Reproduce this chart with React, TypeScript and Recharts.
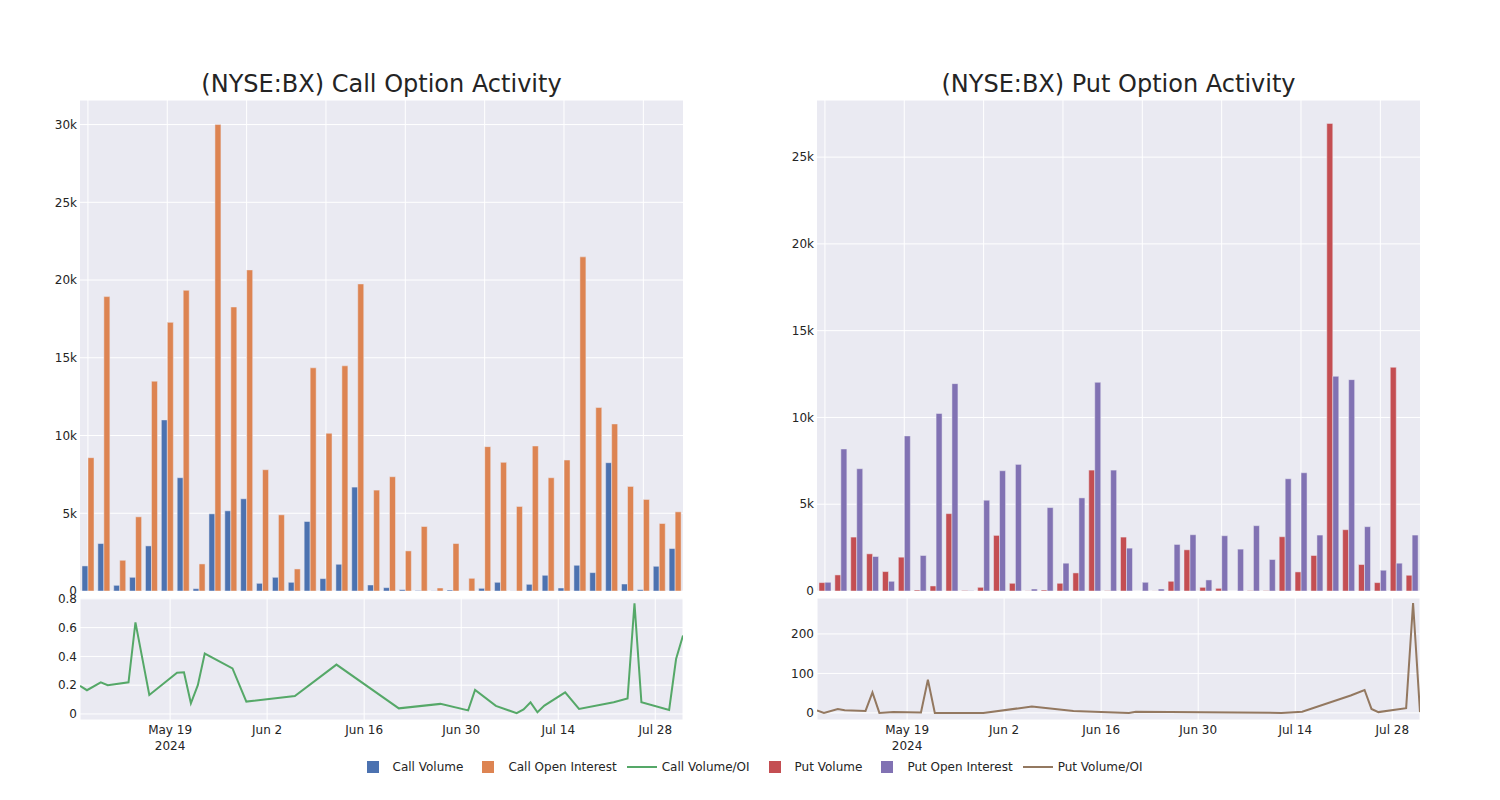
import { BarChart, Bar, LineChart, Line, XAxis, YAxis, CartesianGrid } from "recharts";

// 38 trading days shown as (hidden) categories on the bar panels
const categories = [
  "2024-05-06", "2024-05-07", "2024-05-09", "2024-05-10", "2024-05-13", "2024-05-14",
  "2024-05-15", "2024-05-16", "2024-05-17", "2024-05-20", "2024-05-21", "2024-05-22",
  "2024-05-23", "2024-05-24", "2024-05-28", "2024-05-30", "2024-06-06", "2024-06-12",
  "2024-06-20", "2024-06-21", "2024-06-27", "2024-07-01", "2024-07-02", "2024-07-05",
  "2024-07-08", "2024-07-09", "2024-07-10", "2024-07-11", "2024-07-12", "2024-07-15",
  "2024-07-17", "2024-07-22", "2024-07-24", "2024-07-25", "2024-07-26", "2024-07-30",
  "2024-07-31", "2024-08-01",
];

const callVolume = [
  1612, 3052, 365, 881, 2901, 11003, 7285, 150, 4964, 5158, 5931, 494, 881, 559, 4470, 795,
  1719, 6683, 387, 215, 86, 30, 10, 64, 0, 172, 559, 5, 430, 1010, 193, 1655, 1182, 8252, 451,
  86, 1590, 2729,
];
const callOpenInterest = [
  8575, 18933, 1977, 4771, 13496, 17278, 19341, 1741, 30000, 18267, 20652, 7801, 4900, 1418,
  14355, 10143, 14484, 19749, 6490, 7350, 2579, 4148, 193, 3052, 817, 9284, 8274, 5437, 9327,
  7285, 8424, 21490, 11798, 10745, 6726, 5888, 4341, 5093,
];
const putVolume = [
  483, 926, 3107, 2142, 1119, 1949, 58, 290, 4458, 30, 212, 3204, 444, 10, 58, 444, 1042, 6967,
  20, 3107, 0, 5, 560, 2374, 212, 154, 0, 20, 20, 3127, 1100, 2046, 26943, 3532, 1525, 483,
  12892, 907,
];
const putOpenInterest = [
  502, 8183, 7045, 1988, 560, 8936, 2046, 10229, 11947, 15, 5230, 6929, 7295, 116, 4806, 1602,
  5365, 12024, 6967, 2470, 502, 116, 2683, 3242, 637, 3185, 2413, 3764, 1814, 6466, 6813, 3223,
  12371, 12178, 3706, 1197, 1602, 3223,
];

// volume / OI lines, on a real date axis
const callRatioDates = [
  "2024-05-06", "2024-05-07", "2024-05-09", "2024-05-10", "2024-05-13", "2024-05-14",
  "2024-05-16", "2024-05-20", "2024-05-21", "2024-05-22", "2024-05-23", "2024-05-24",
  "2024-05-28", "2024-05-30", "2024-06-06", "2024-06-12", "2024-06-21", "2024-06-27",
  "2024-07-01", "2024-07-02", "2024-07-05", "2024-07-08", "2024-07-09", "2024-07-10",
  "2024-07-11", "2024-07-12", "2024-07-15", "2024-07-17", "2024-07-22", "2024-07-24",
  "2024-07-25", "2024-07-26", "2024-07-30", "2024-07-31", "2024-08-01",
];
const callRatio = [
  0.195, 0.165, 0.22, 0.2, 0.22, 0.637, 0.132, 0.287, 0.29, 0.074, 0.2, 0.42, 0.317, 0.086,
  0.125, 0.343, 0.039, 0.07, 0.025, 0.167, 0.056, 0.005, 0.032, 0.081, 0.012, 0.058, 0.15,
  0.035, 0.081, 0.107, 0.769, 0.081, 0.028, 0.382, 0.545,
];
const putRatioDates = [
  "2024-05-06", "2024-05-07", "2024-05-09", "2024-05-10", "2024-05-13", "2024-05-14",
  "2024-05-15", "2024-05-17", "2024-05-21", "2024-05-22", "2024-05-23", "2024-05-30",
  "2024-06-06", "2024-06-12", "2024-06-20", "2024-06-21", "2024-07-12", "2024-07-15",
  "2024-07-22", "2024-07-24", "2024-07-25", "2024-07-26", "2024-07-30", "2024-07-31",
  "2024-08-01",
];
const putRatio = [
  6, 0, 10, 7, 5, 52, 0, 2, 1, 84, 0, 0, 16, 5, 0, 3, 0, 3, 44, 58, 10, 2, 12, 278, 2,
];

const dateTicks = ["2024-05-19", "2024-06-02", "2024-06-16", "2024-06-30", "2024-07-14", "2024-07-28"];
const MONTHS = ["Jan", "Feb", "Mar", "Apr", "May", "Jun", "Jul", "Aug", "Sep", "Oct", "Nov", "Dec"];

const COLORS = {
  callVolume: "#4C72B0",
  callOI: "#DD8452",
  callRatio: "#55A868",
  putVolume: "#C44E52",
  putOI: "#8172B3",
  putRatio: "#937860",
};

const TEXT = "rgb(36,36,36)";
const FONT = '"DejaVu Sans", Verdana, sans-serif';
const T0 = Date.parse("2024-05-06");
const T1 = Date.parse("2024-08-01");

const callBars = categories.map((d, i) => ({ date: d, volume: callVolume[i], oi: callOpenInterest[i] }));
const putBars = categories.map((d, i) => ({ date: d, volume: putVolume[i], oi: putOpenInterest[i] }));
const callLine = callRatioDates.map((d, i) => ({ t: Date.parse(d), ratio: callRatio[i] }));
const putLine = putRatioDates.map((d, i) => ({ t: Date.parse(d), ratio: putRatio[i] }));
const tickTimes = dateTicks.map((d) => Date.parse(d));

// a vertical gridline on every 5th category, like the source
const gridIndexes = categories.map((_, i) => i).filter((i) => i % 5 === 0);

const kFormat = (v: number) => (v === 0 ? "0" : `${v / 1000}k`);

const categoryGrid = ({ xAxis, offset }: any) => {
  const s = xAxis && xAxis.scale;
  const apply =
    typeof s === "function" ? s : s && typeof s.map === "function" ? (v: any) => s.map(v) : null;
  if (apply) {
    const bw = typeof s.bandwidth === "function" ? s.bandwidth() : 0;
    const pts = gridIndexes.map((i) => apply(categories[i]) + bw / 2).filter((v) => Number.isFinite(v));
    if (pts.length) return pts;
  }
  // fallback: centres of the category bands
  const n = categories.length;
  return gridIndexes.map((i) => offset.left + (offset.width * (i + 0.5)) / n);
};

function DateTick(props: any) {
  const { x, y, payload } = props;
  const d = new Date(payload.value);
  const label = `${MONTHS[d.getUTCMonth()]} ${d.getUTCDate()}`;
  const first = payload.value === tickTimes[0];
  return (
    <text x={x} y={y} textAnchor="middle" fontSize={12} fill={TEXT} fontFamily={FONT}>
      <tspan x={x} dy={13.5}>{label}</tspan>
      {first && <tspan x={x} dy={16}>2024</tspan>}
    </text>
  );
}

function BarPanel({ data, volColor, oiColor, max, ticks }: any) {
  return (
    <BarChart
      width={690}
      height={511}
      data={data}
      margin={{ top: 10, right: 7, bottom: 10, left: 0 }}
      barSize={6}
      barGap={0}
    >
      <CartesianGrid
        fill="#EAEAF2"
        stroke="#ffffff"
        strokeWidth={1}
        verticalCoordinatesGenerator={categoryGrid}
      />
      <XAxis dataKey="date" interval={4} tick={false} axisLine={false} tickLine={false} height={0} />
      <YAxis
        width={80}
        domain={[0, max]}
        ticks={ticks}
        tickFormatter={kFormat}
        axisLine={false}
        tickLine={false}
        tickSize={0}
        tickMargin={3}
        tick={{ fontSize: 12, fill: TEXT, fontFamily: FONT }}
        allowDataOverflow
      />
      <Bar dataKey="volume" fill={volColor} stroke="#EAEAF2" strokeWidth={0.5} isAnimationActive={false} />
      <Bar dataKey="oi" fill={oiColor} stroke="#EAEAF2" strokeWidth={0.5} isAnimationActive={false} />
    </BarChart>
  );
}

function LinePanel({ data, color, domain, ticks, fmt }: any) {
  return (
    <LineChart width={690} height={177} data={data} margin={{ top: 10, right: 7, bottom: 0, left: 0 }}>
      <CartesianGrid fill="#EAEAF2" stroke="#ffffff" strokeWidth={1} />
      <XAxis
        dataKey="t"
        type="number"
        domain={[T0, T1]}
        ticks={tickTimes}
        interval={0}
        tick={<DateTick />}
        axisLine={false}
        tickLine={false}
        tickSize={0}
        tickMargin={0}
        height={45}
        allowDataOverflow
      />
      <YAxis
        width={80}
        domain={domain}
        ticks={ticks}
        interval={0}
        tickFormatter={fmt}
        axisLine={false}
        tickLine={false}
        tickSize={0}
        tickMargin={3}
        tick={{ fontSize: 12, fill: TEXT, fontFamily: FONT }}
        allowDataOverflow
      />
      <Line
        type="linear"
        dataKey="ratio"
        stroke={color}
        strokeWidth={2}
        dot={false}
        isAnimationActive={false}
      />
    </LineChart>
  );
}

const legendItems = [
  { label: "Call Volume", color: COLORS.callVolume, kind: "bar" },
  { label: "Call Open Interest", color: COLORS.callOI, kind: "bar" },
  { label: "Call Volume/OI", color: COLORS.callRatio, kind: "line" },
  { label: "Put Volume", color: COLORS.putVolume, kind: "bar" },
  { label: "Put Open Interest", color: COLORS.putOI, kind: "bar" },
  { label: "Put Volume/OI", color: COLORS.putRatio, kind: "line" },
];

export default function App() {
  const titleStyle = {
    position: "absolute" as const,
    top: 69,
    width: 603,
    textAlign: "center" as const,
    fontSize: 24,
    lineHeight: "30px",
    color: TEXT,
  };
  return (
    <div
      style={{
        position: "absolute",
        left: 0,
        top: 0,
        width: 1500,
        height: 800,
        background: "#ffffff",
        fontFamily: FONT,
      }}
    >
      <div style={{ ...titleStyle, left: 80 }}>(NYSE:BX) Call Option Activity</div>
      <div style={{ ...titleStyle, left: 817 }}>(NYSE:BX) Put Option Activity</div>

      <div style={{ position: "absolute", left: 0, top: 90 }}>
        <BarPanel
          data={callBars}
          volColor={COLORS.callVolume}
          oiColor={COLORS.callOI}
          max={31579}
          ticks={[0, 5000, 10000, 15000, 20000, 25000, 30000]}
        />
      </div>
      <div style={{ position: "absolute", left: 0, top: 588 }}>
        <LinePanel
          data={callLine}
          color={COLORS.callRatio}
          domain={[-0.042, 0.806]}
          ticks={[0, 0.2, 0.4, 0.6, 0.8]}
          fmt={(v: number) => (v === 0 ? "0" : v.toFixed(1))}
        />
      </div>

      <div style={{ position: "absolute", left: 737, top: 90 }}>
        <BarPanel
          data={putBars}
          volColor={COLORS.putVolume}
          oiColor={COLORS.putOI}
          max={28290}
          ticks={[0, 5000, 10000, 15000, 20000, 25000]}
        />
      </div>
      <div style={{ position: "absolute", left: 737, top: 588 }}>
        <LinePanel
          data={putLine}
          color={COLORS.putRatio}
          domain={[-18, 291]}
          ticks={[0, 100, 200]}
          fmt={(v: number) => String(v)}
        />
      </div>

      <div
        style={{
          position: "absolute",
          left: 0,
          top: 759,
          width: 1500,
          display: "flex",
          justifyContent: "center",
          fontSize: 12,
          color: TEXT,
          lineHeight: "16px",
        }}
      >
        {legendItems.map((it) => (
          <div key={it.label} style={{ display: "flex", alignItems: "center", marginRight: 5 }}>
            <div style={{ width: 40, display: "flex", justifyContent: "center", alignItems: "center" }}>
              {it.kind === "bar" ? (
                <div style={{ width: 12, height: 12, background: it.color }} />
              ) : (
                <div style={{ width: 30, height: 2, background: it.color }} />
              )}
            </div>
            <span>{it.label}</span>
          </div>
        ))}
      </div>
    </div>
  );
}
